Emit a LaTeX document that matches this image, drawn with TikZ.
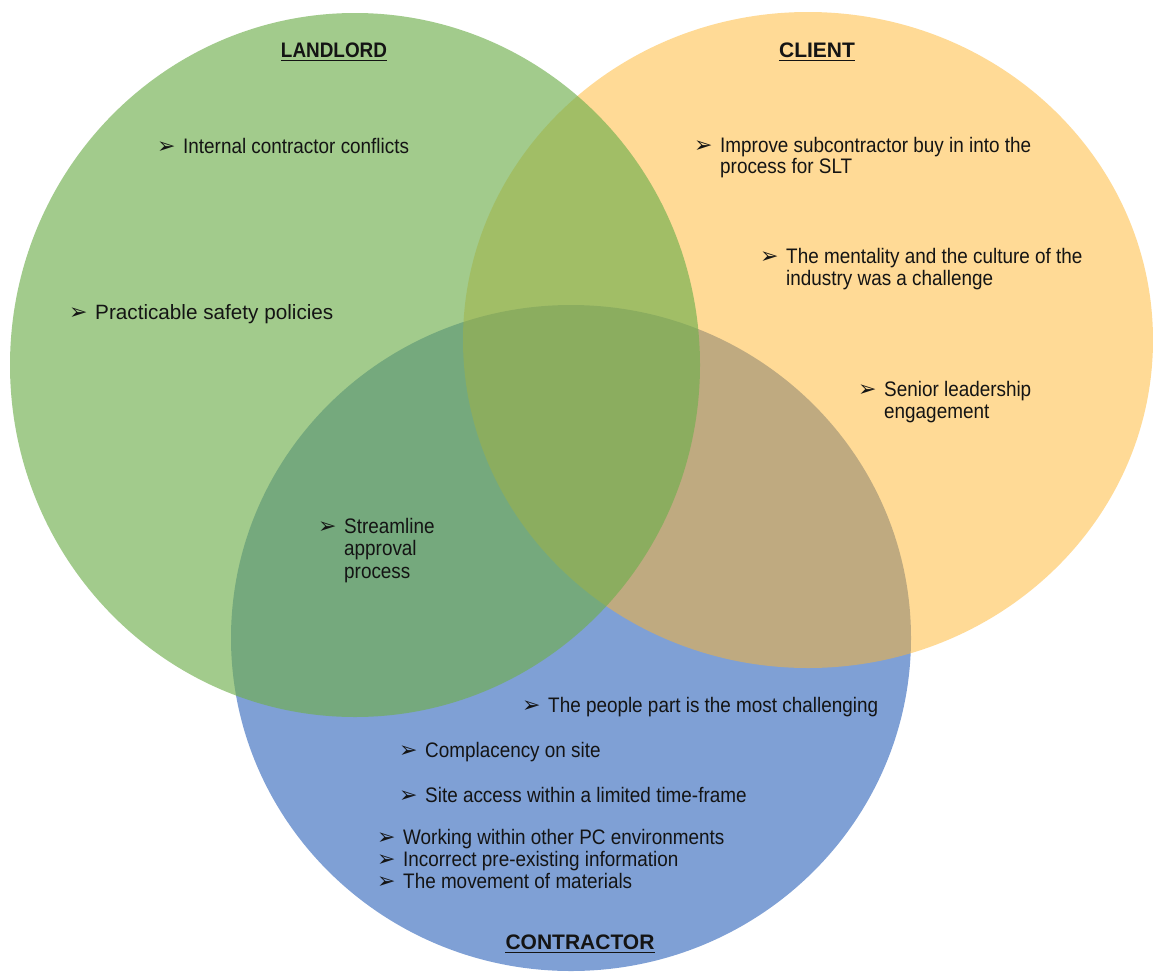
\documentclass[tikz,border=0pt]{standalone}
\usepackage{fontspec}
\setmainfont{Liberation Sans}
\newfontfamily\narrowsans[FakeStretch=0.9]{Liberation Sans}
\newfontfamily\dingsans{DejaVu Sans}

% arrowhead bullet followed by a fixed gap, then a left-aligned block of lines
\newcommand\arrowbullet{\makebox[26pt][l]{\raisebox{-0.5pt}{\fontsize{22}{22}\selectfont\dingsans ➢}}}
\newcommand\bulletitem[1]{\arrowbullet\begin{tabular}[t]{@{}l@{}}#1\end{tabular}}

\definecolor{landlordgreen}{RGB}{112,175,78}
\definecolor{clientorange}{RGB}{255,181,45}
\definecolor{contractorblue}{RGB}{127,160,213}
\definecolor{ink}{RGB}{20,20,20}

\tikzset{
  itemtext/.style={anchor=base west, inner sep=0pt, text=ink,
    font=\narrowsans\fontsize{21}{22.5}\selectfont},
  titletext/.style={anchor=base, inner sep=0pt, text=ink,
    font=\bfseries\fontsize{21}{22}\selectfont},
  titlerule/.style={line width=1.4pt, draw=ink},
}

\begin{document}
\begin{tikzpicture}[x=1pt, y=-1pt]
\useasboundingbox (0,0) rectangle (1153,972);

% the three sets, bottom to top
\fill[contractorblue] (571,638) ellipse [x radius=340pt, y radius=333pt];
\fill[clientorange, fill opacity=0.5] (808,340) ellipse [x radius=345pt, y radius=328pt];
\fill[landlordgreen, fill opacity=0.65] (355,365) ellipse [x radius=345pt, y radius=352pt];

% set titles
\node[titletext, font=\narrowsans\bfseries\fontsize{21}{22}\selectfont] (landlord) at (334,57) {LANDLORD};
\node[titletext] (client) at (817,57) {CLIENT};
\node[titletext] (contractor) at (580,949) {CONTRACTOR};
\foreach \t in {landlord,client,contractor}
  \draw[titlerule] ([yshift=-3.5pt]\t.base west) -- ([yshift=-3.5pt]\t.base east);

% landlord
\node[itemtext] (internal) at (157,153) {\bulletitem{Internal contractor conflicts}};
\node[itemtext, font=\fontsize{20.7}{22.5}\selectfont] (policies) at (69,319) {\bulletitem{Practicable safety policies}};

% client
\node[itemtext, font=\narrowsans\fontsize{21}{20}\selectfont] (buyin) at (694,152)
  {\bulletitem{Improve subcontractor buy in into the\\process for SLT}};
\node[itemtext, font=\narrowsans\fontsize{21}{22}\selectfont] (culture) at (760,263)
  {\bulletitem{The mentality and the culture of the\\industry was a challenge}};
\node[itemtext, font=\narrowsans\fontsize{21}{22}\selectfont] (leadership) at (858,396)
  {\bulletitem{Senior leadership\\engagement}};

% landlord and contractor
\node[itemtext] (streamline) at (318,533) {\bulletitem{Streamline\\approval\\process}};

% contractor
\node[itemtext] (people) at (522,712) {\bulletitem{The people part is the most challenging}};
\node[itemtext] (complacency) at (399,757) {\bulletitem{Complacency on site}};
\node[itemtext] (access) at (399,802) {\bulletitem{Site access within a limited time-frame}};
\node[itemtext, font=\narrowsans\fontsize{21}{22}\selectfont] (environments) at (377,844)
  {\begin{tabular}[t]{@{}l@{}}
    \arrowbullet Working within other PC environments\\
    \arrowbullet Incorrect pre-existing information\\
    \arrowbullet The movement of materials
  \end{tabular}};
\end{tikzpicture}
\end{document}
